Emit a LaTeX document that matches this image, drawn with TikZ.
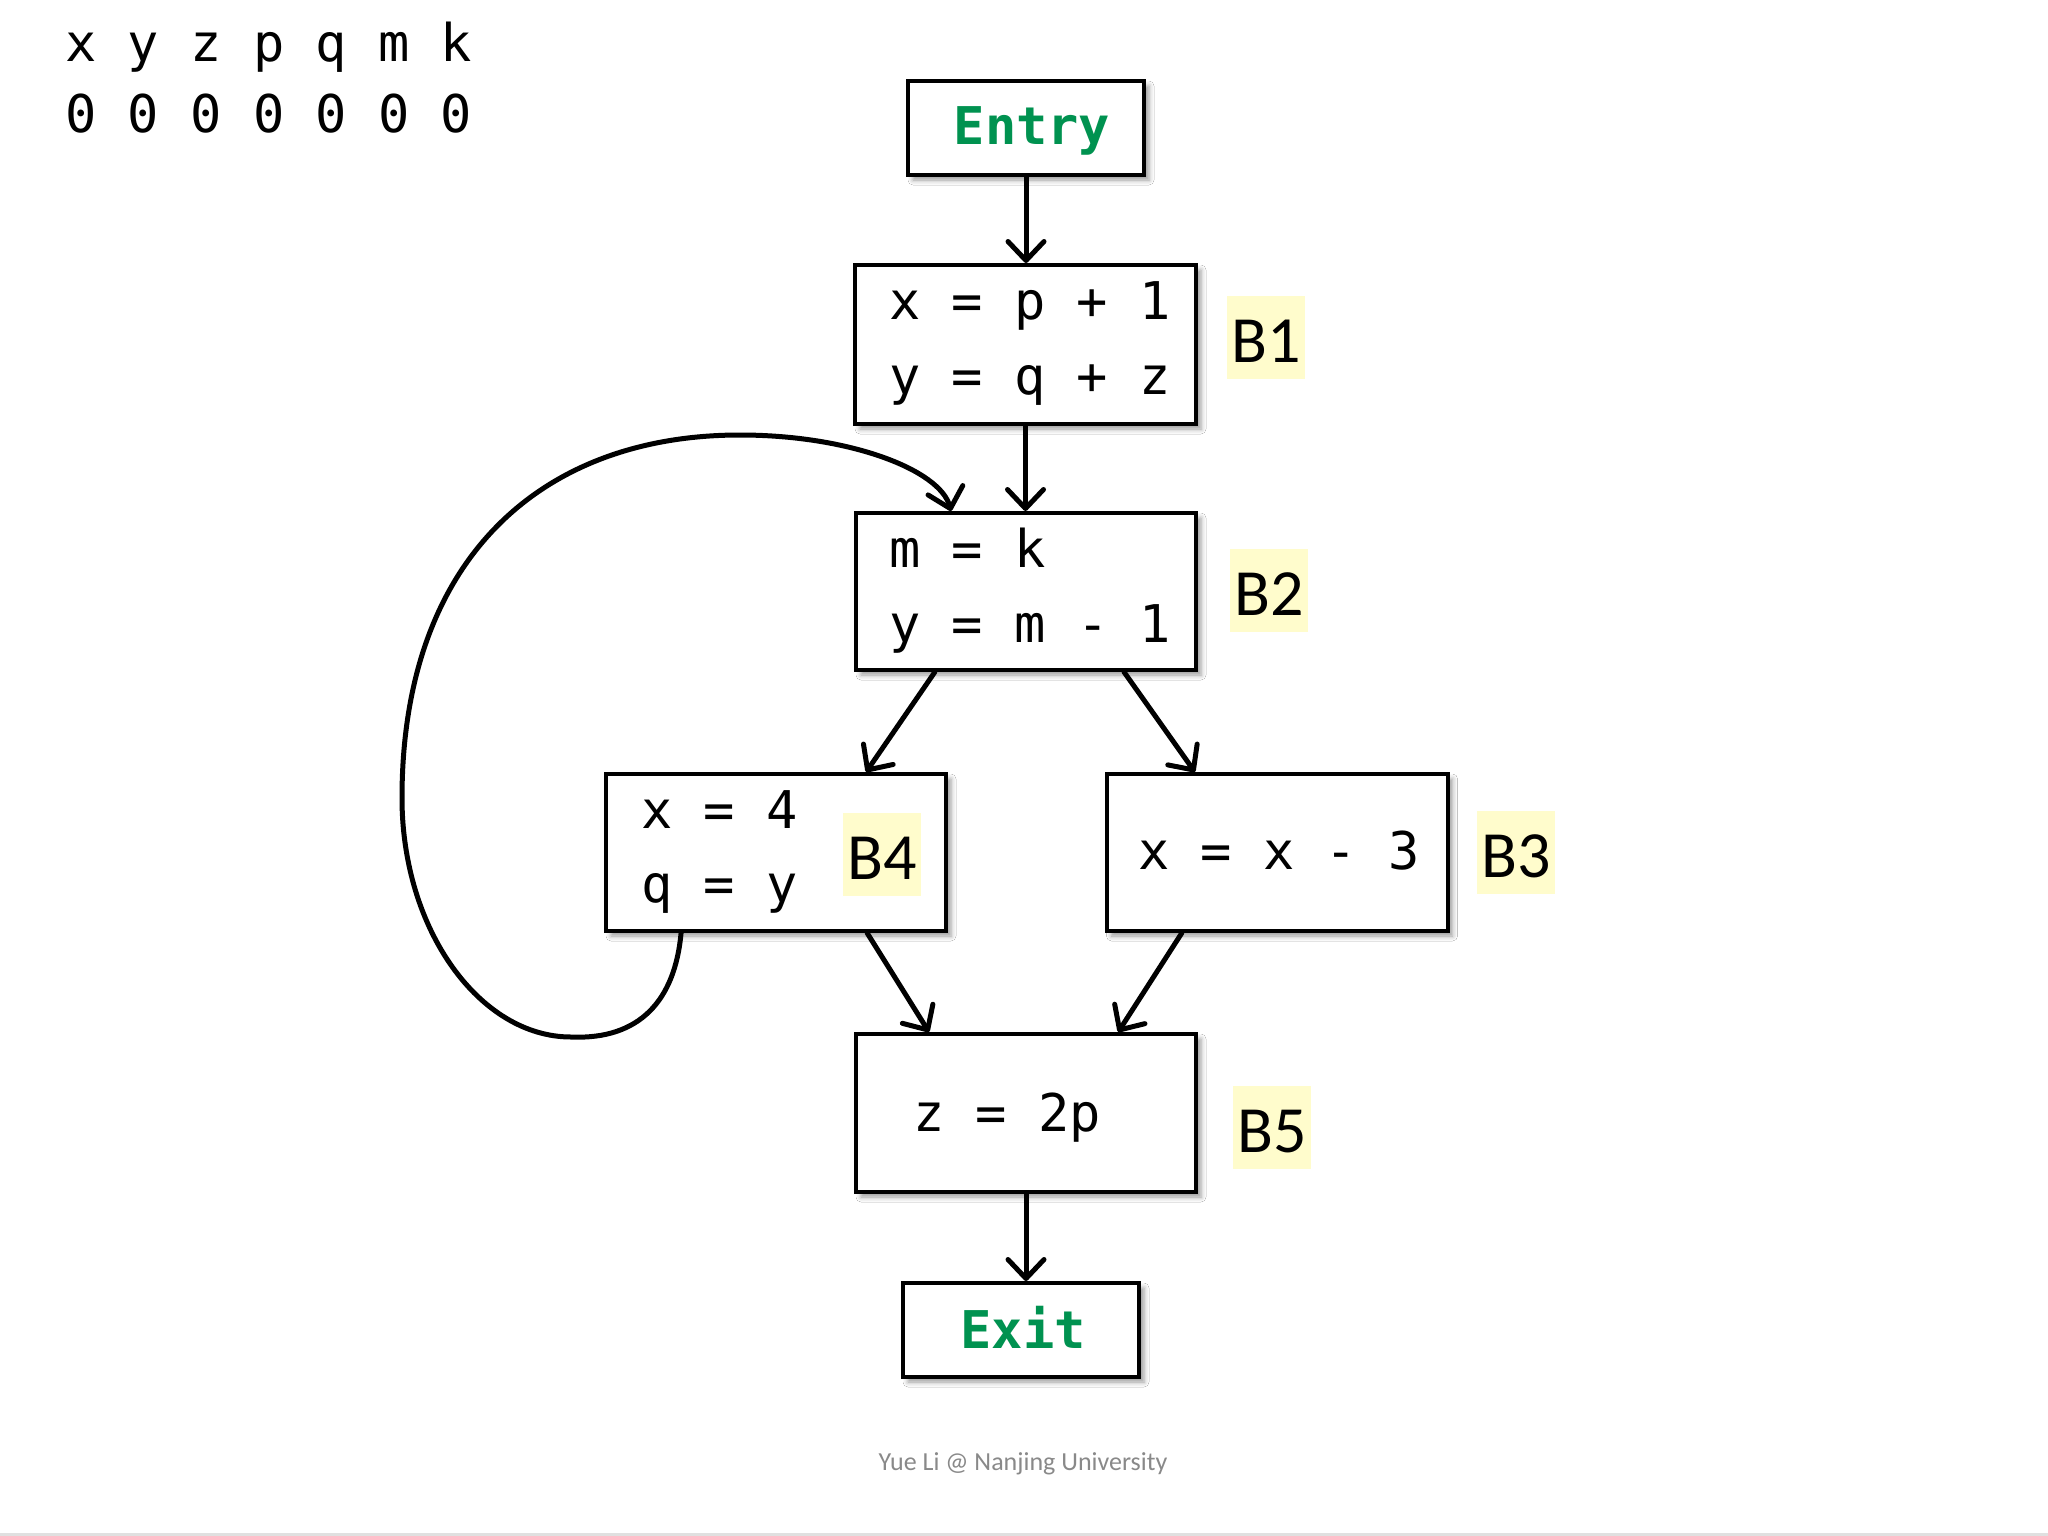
\documentclass[tikz,border=0pt]{standalone}
\usepackage{fontspec}
\setmainfont{Carlito}
\setmonofont{DejaVu Sans Mono}
\usetikzlibrary{arrows.meta,calc,shadows.blur}
\definecolor{hl}{RGB}{255,252,204}
\definecolor{entrygreen}{RGB}{0,146,80}
\definecolor{foot}{RGB}{137,137,137}
\begin{document}
\begin{tikzpicture}[x=1pt,y=-1pt,
  blk/.style={draw=black,line width=4pt,fill=white,rectangle,inner sep=0pt,
    blur shadow={shadow xshift=5pt,shadow yshift=-5pt,shadow blur radius=5pt,shadow opacity=40}},
  code/.style={font=\fontsize{52}{62}\selectfont\ttfamily,inner sep=0pt},
  term/.style={font=\fontsize{52}{62}\selectfont\ttfamily\bfseries,text=entrygreen,inner sep=0pt},
  lbl/.style={fill=hl,font=\fontsize{66}{70}\selectfont,inner xsep=4pt,inner ysep=0pt,text height=66pt,text depth=17pt,anchor=base},
  arr/.style={line width=5pt,line cap=round,-{Straight Barb[length=19pt,width=36pt,round]}},
]
\path[use as bounding box,fill=white] (0,0) rectangle (2048,1536);
\fill[black!12] (0,1533) rectangle (2048,1536);

% variable header
\node[code,anchor=base west] (vars) at (65,62) {x y z p q m k};
\node[code,anchor=base west] (zeros) at (65,132) {0 0 0 0 0 0 0};

% blocks
\node[blk,minimum width=236pt,minimum height=94pt] (entry) at (1026,128) {};
\node[term,anchor=base] (entryt) at (1032,145) {Entry};

\node[blk,minimum width=341pt,minimum height=159pt] (b1) at (1025.5,344.5) {};
\node[code,anchor=base] (b1a) at (1030,319) {x = p + 1};
\node[code,anchor=base] (b1b) at (1030,394) {y = q + z};
\node[lbl] (l1) at (1266,362) {B1};

\node[blk,minimum width=340pt,minimum height=157pt] (b2) at (1026,591.5) {};
\node[code,anchor=base west] (b2a) at (889,567) {m = k};
\node[code,anchor=base west] (b2b) at (889,642) {y = m - 1};
\node[lbl] (l2) at (1269,615) {B2};

\node[blk,minimum width=340pt,minimum height=157pt] (b4) at (776,852.5) {};
\node[code,anchor=base west] (b4a) at (641,828) {x = 4};
\node[code,anchor=base west] (b4b) at (641,902) {q = y};
\node[lbl] (l4) at (882,879) {B4};

\node[blk,minimum width=341pt,minimum height=157pt] (b3) at (1277,852.5) {};
\node[code,anchor=base] (b3a) at (1279,869) {x = x - 3};
\node[lbl] (l3) at (1516,877) {B3};

\node[blk,minimum width=340pt,minimum height=158pt] (b5) at (1026,1113) {};
\node[code,anchor=base west] (b5a) at (913,1131) {z = 2p};
\node[lbl] (l5) at (1272,1152) {B5};

\node[blk,minimum width=236pt,minimum height=94pt] (exit) at (1021,1330) {};
\node[term,anchor=base] (exitt) at (1023,1348) {Exit};

% connectors
\draw[arr] (entry.south) -- (entry.south |- b1.north);
\draw[arr] (b1.south) -- (b1.south |- b2.north);
\draw[arr] ($(b2.south west)!0.235!(b2.south east)$) -- ($(b4.north west)!0.762!(b4.north east)$);
\draw[arr] ($(b2.south west)!0.785!(b2.south east)$) -- ($(b3.north west)!0.262!(b3.north east)$);
\draw[arr] ($(b4.south west)!0.765!(b4.south east)$) -- ($(b5.north west)!0.218!(b5.north east)$);
\draw[arr] ($(b3.south west)!0.224!(b3.south east)$) -- ($(b5.north west)!0.768!(b5.north east)$);
\draw[arr] (b5.south) -- (b5.south |- exit.north);

% back edge B4 -> B2
\coordinate (loopS) at ($(b4.south west)!0.224!(b4.south east)$);
\coordinate (loopE) at ($(b2.north west)!0.282!(b2.north east)$);
\coordinate (lp1) at (571,1037);
\coordinate (lp2) at (402,798);
\coordinate (lp3) at (740,435);
\draw[arr] (loopS) .. controls (675,1000) and (640,1040) .. (lp1)
  .. controls (480,1037) and (402,930) .. (lp2)
  .. controls (402,560) and (540,435) .. (lp3)
  .. controls (850,435) and (940,470) .. (loopE);

% footer
\node[font=\fontsize{26}{30}\selectfont,text=foot,anchor=base] (foot) at (1023,1470) {Yue Li @ Nanjing University};
\end{tikzpicture}
\end{document}
